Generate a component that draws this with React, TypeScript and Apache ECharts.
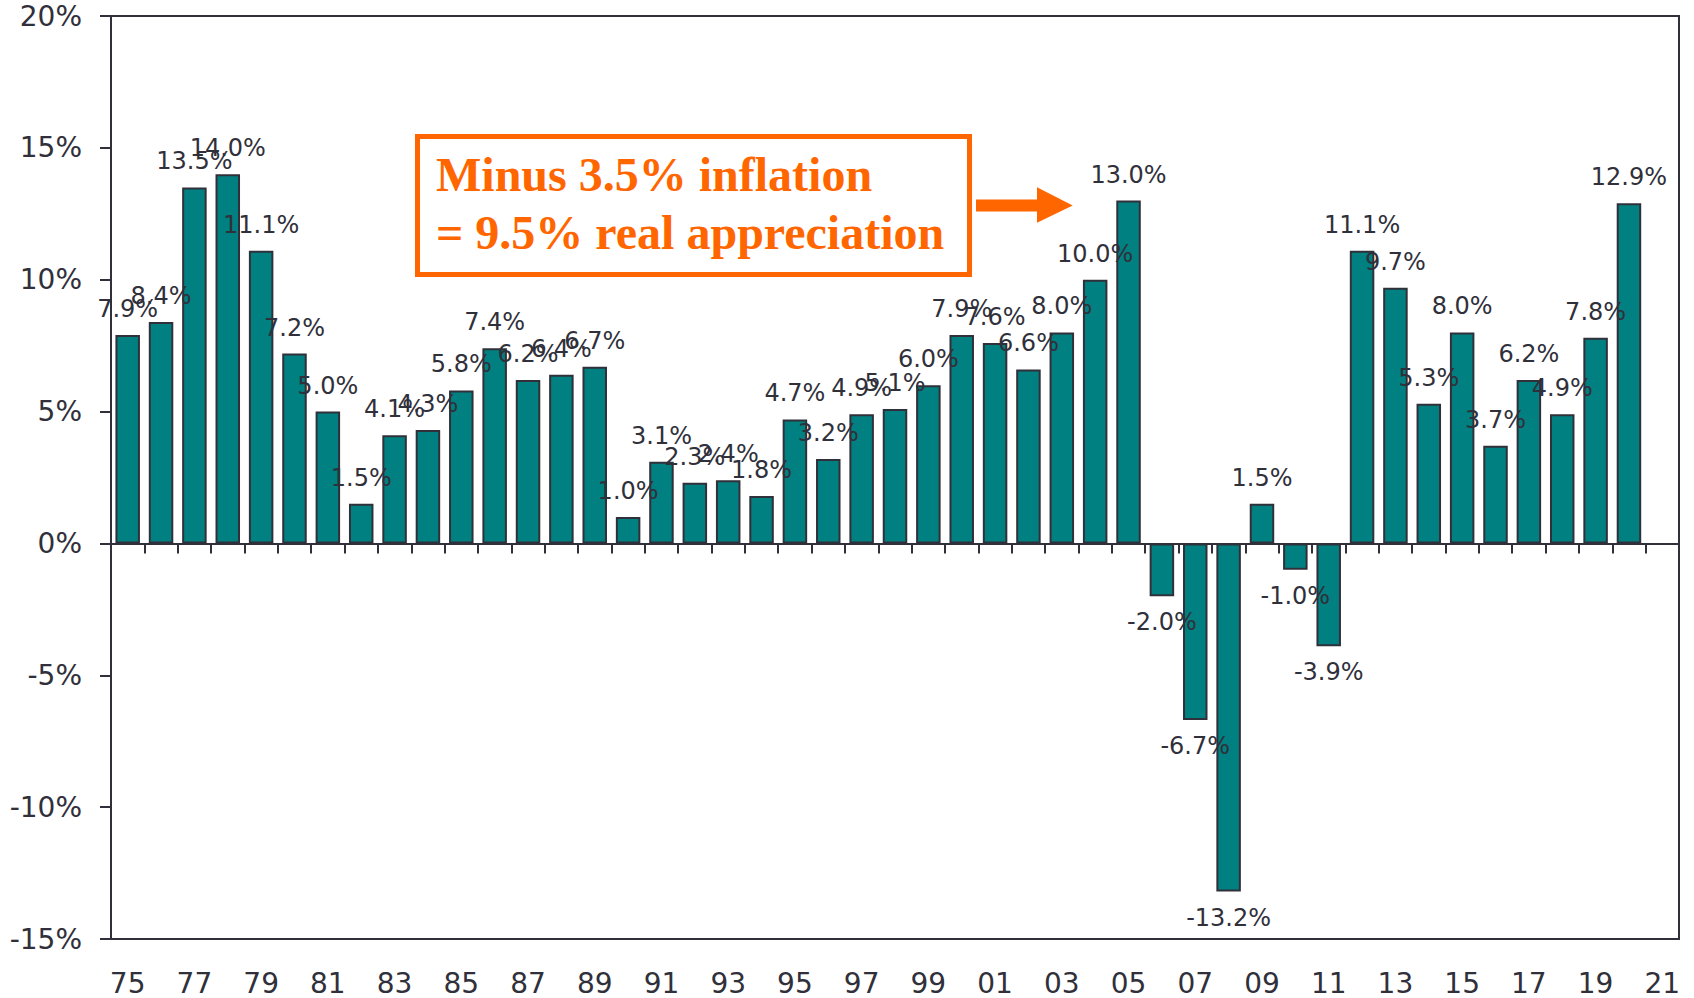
import React, { useEffect, useRef } from "react";
import * as echarts from "echarts";

const years: string[] = [
  "75", "76", "77", "78", "79", "80", "81", "82", "83", "84",
  "85", "86", "87", "88", "89", "90", "91", "92", "93", "94",
  "95", "96", "97", "98", "99", "00", "01", "02", "03", "04",
  "05", "06", "07", "08", "09", "10", "11", "12", "13", "14",
  "15", "16", "17", "18", "19", "20", "21",
];

const changes: number[] = [
  7.9, 8.4, 13.5, 14.0, 11.1, 7.2, 5.0, 1.5, 4.1, 4.3,
  5.8, 7.4, 6.2, 6.4, 6.7, 1.0, 3.1, 2.3, 2.4, 1.8,
  4.7, 3.2, 4.9, 5.1, 6.0, 7.9, 7.6, 6.6, 8.0, 10.0,
  13.0, -2.0, -6.7, -13.2, 1.5, -1.0, -3.9, 11.1, 9.7, 5.3,
  8.0, 3.7, 6.2, 4.9, 7.8, 12.9,
];

const yMin = -15;
const yMax = 20;
const yStep = 5;

const noteLines: string[] = ["Minus 3.5% inflation", "= 9.5% real appreciation"];

const TEXT = "#30303a";
const TEAL = "#008080";
const ORANGE = "#ff6600";
const SANS = "DejaVu Sans, sans-serif";

export default function App() {
  const ref = useRef<HTMLDivElement>(null);

  useEffect(() => {
    document.body.style.margin = "0";
    if (!ref.current) return;
    const chart = echarts.init(ref.current, undefined, { renderer: "svg" });

    const data = changes.map((v) => ({
      value: v,
      label: { position: v < 0 ? "bottom" : "top" },
    }));

    chart.setOption({
      animation: false,
      backgroundColor: "#ffffff",
      grid: {
        left: 111,
        right: 15,
        top: 16,
        bottom: 59,
        show: true,
        borderColor: TEXT,
        borderWidth: 2,
        backgroundColor: "transparent",
      },
      xAxis: [
        {
          type: "category",
          data: years,
          position: "bottom",
          boundaryGap: true,
          axisLine: { show: true, onZero: true, lineStyle: { color: TEXT, width: 2 } },
          axisTick: { show: true, interval: 0, length: 10, inside: false, lineStyle: { color: TEXT, width: 2 } },
          axisLabel: { show: false },
          splitLine: { show: false },
        },
        {
          type: "category",
          data: years,
          position: "bottom",
          boundaryGap: true,
          axisLine: { show: true, onZero: false, lineStyle: { color: TEXT, width: 2 } },
          axisTick: { show: false },
          axisLabel: {
            show: true,
            interval: 1,
            color: TEXT,
            fontFamily: SANS,
            fontSize: 28,
            margin: 30,
          },
          splitLine: { show: false },
        },
      ],
      yAxis: {
        type: "value",
        min: yMin,
        max: yMax,
        interval: yStep,
        axisLine: { show: true, lineStyle: { color: TEXT, width: 2 } },
        axisTick: { show: true, length: 11, lineStyle: { color: TEXT, width: 2 } },
        axisLabel: {
          color: TEXT,
          fontFamily: SANS,
          fontSize: 28,
          margin: 29,
          padding: [6, 0, 0, 0],
          formatter: "{value}%",
        },
        splitLine: { show: false },
      },
      series: [
        {
          type: "bar",
          xAxisIndex: 0,
          data,
          barWidth: 24.5,
          itemStyle: { color: TEAL, borderColor: TEXT, borderWidth: 2 },
          label: {
            show: true,
            distance: 14,
            color: TEXT,
            fontFamily: SANS,
            fontSize: 24,
            formatter: (p: any) => `${Number(p.value).toFixed(1)}%`,
          },
        },
      ],
      graphic: [
        {
          type: "rect",
          shape: { x: 417.5, y: 136.5, width: 552, height: 138 },
          style: { fill: "#ffffff", stroke: ORANGE, lineWidth: 5 },
          z: 10,
        },
        {
          type: "text",
          x: 436,
          y: 174.5,
          style: {
            text: noteLines[0],
            fill: ORANGE,
            font: "bold 48px 'Liberation Serif', 'Times New Roman', serif",
            verticalAlign: "middle",
            align: "left",
          },
          z: 11,
        },
        {
          type: "text",
          x: 436,
          y: 232,
          style: {
            text: noteLines[1],
            fill: ORANGE,
            font: "bold 48px 'Liberation Serif', 'Times New Roman', serif",
            verticalAlign: "middle",
            align: "left",
          },
          z: 11,
        },
        {
          type: "polygon",
          shape: {
            points: [
              [976, 199.5],
              [1037, 199.5],
              [1037, 187.3],
              [1072.7, 205.5],
              [1037, 222.7],
              [1037, 211.5],
              [976, 211.5],
            ],
          },
          style: { fill: ORANGE },
          z: 10,
        },
      ],
    });

    return () => chart.dispose();
  }, []);

  return <div ref={ref} style={{ width: 1694, height: 998 }} />;
}
